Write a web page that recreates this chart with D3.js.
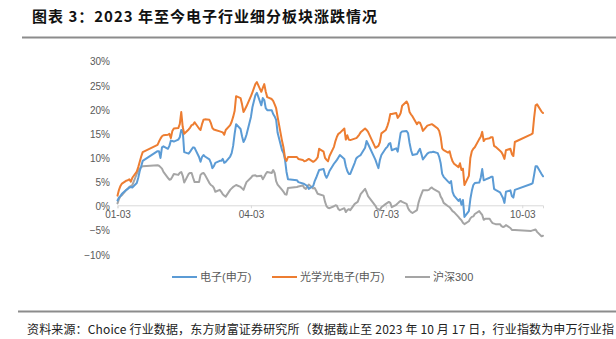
<!DOCTYPE html>
<html>
<head>
<meta charset="utf-8">
<script src="https://cdn.jsdelivr.net/npm/d3@7/dist/d3.min.js"></script>
<style>
  html, body { margin: 0; padding: 0; background: #fff; }
  svg { display: block; }
</style>
</head>
<body>
<svg id="chart" width="616" height="339"></svg>
<script>
// Trading dates of 2023 (MM-DD) shared by all three series
const dates = [
  "01-03","01-04","01-05","01-06","01-09","01-10","01-11","01-12","01-13","01-16",
  "01-17","01-18","01-19","01-20","01-30","01-31","02-01","02-02","02-03","02-06",
  "02-07","02-08","02-09","02-10","02-13","02-14","02-15","02-16","02-17","02-20",
  "02-21","02-22","02-23","02-24","02-27","02-28","03-01","03-02","03-03","03-06",
  "03-07","03-08","03-09","03-10","03-13","03-14","03-15","03-16","03-17","03-20",
  "03-21","03-22","03-23","03-24","03-27","03-28","03-29","03-30","03-31","04-03",
  "04-04","04-06","04-07","04-10","04-11","04-12","04-13","04-14","04-17","04-18",
  "04-19","04-20","04-21","04-24","04-25","04-26","04-27","04-28","05-04","05-05",
  "05-08","05-09","05-10","05-11","05-12","05-15","05-16","05-17","05-18","05-19",
  "05-22","05-23","05-24","05-25","05-26","05-29","05-30","05-31","06-01","06-02",
  "06-05","06-06","06-07","06-08","06-09","06-12","06-13","06-14","06-15","06-16",
  "06-19","06-20","06-21","06-26","06-27","06-28","06-29","06-30","07-03","07-04",
  "07-05","07-06","07-07","07-10","07-11","07-12","07-13","07-14","07-17","07-18",
  "07-19","07-20","07-21","07-24","07-25","07-26","07-27","07-28","07-31","08-01",
  "08-02","08-03","08-04","08-07","08-08","08-09","08-10","08-11","08-14","08-15",
  "08-16","08-17","08-18","08-21","08-22","08-23","08-24","08-25","08-28","08-29",
  "08-30","08-31","09-01","09-04","09-05","09-06","09-07","09-08","09-11","09-12",
  "09-13","09-14","09-15","09-18","09-19","09-20","09-21","09-22","09-25","09-26",
  "09-27","09-28","10-09","10-10","10-11","10-12","10-13","10-16","10-17"
];

// 电子(申万) cumulative change, %
const electronics = [
  1.0, 1.6, 1.9, 2.4, 3.2, 3.4, 3.7, 3.8, 3.7, 4.6,
  5.7, 7.1, 8.1, 9.2, 11.2, 11.2, 9.8, 12.0, 12.2, 11.7,
  12.3, 13.4, 13.3, 13.2, 13.6, 14.1, 15.6, 15.4, 11.0, 10.7,
  11.1, 11.6, 12.0, 11.9, 10.0, 9.0, 10.0, 10.4, 10.1, 9.5,
  8.8, 7.7, 8.1, 8.8, 9.2, 9.2, 9.6, 8.8, 9.0, 10.1,
  10.8, 12.3, 14.8, 16.8, 15.8, 14.3, 13.1, 13.7, 14.6, 18.3,
  20.3, 22.8, 23.3, 20.7, 22.2, 21.8, 20.1, 19.7, 19.7, 18.9,
  18.4, 17.7, 15.0, 11.4, 10.8, 9.4, 6.9, 5.4, 5.2, 4.8,
  4.5, 4.4, 4.2, 4.0, 3.4, 4.0, 5.0, 5.7, 6.5, 7.3,
  7.5, 6.3, 5.7, 6.3, 7.1, 8.6, 9.0, 9.4, 9.9, 10.4,
  9.6, 8.1, 7.1, 6.5, 6.5, 8.8, 9.7, 10.0, 10.2, 10.4,
  11.9, 13.3, 12.7, 9.4, 8.5, 7.7, 9.4, 10.4, 11.8, 12.1,
  12.7, 12.9, 11.4, 11.8, 11.1, 13.1, 15.0, 15.3, 15.4, 14.9,
  12.9, 11.4, 10.4, 10.6, 11.2, 11.7, 10.6, 9.5, 10.7, 10.9,
  11.0, 11.0, 11.1, 10.8, 10.0, 8.7, 6.5, 5.9, 4.9, 4.6,
  5.0, 2.8, 2.0, 0.9, 1.3, 0.1, 1.1, -2.4, -1.2, 1.3,
  3.0, 4.2, 4.6, 4.7, 5.7, 7.5, 5.2, 5.3, 5.7, 5.9,
  5.9, 3.4, 3.2, 2.7, 2.1, 1.5, 0.5, 2.8, 3.1, 1.9,
  1.6, 3.2, 4.4, 4.6, 6.3, 8.1, 8.1, 6.5, 6.0
];

// 光学光电子(申万) cumulative change, %
const optoelectronics = [
  2.0, 3.2, 4.0, 4.5, 5.1, 5.2, 5.4, 4.9, 5.7, 7.0,
  7.9, 9.0, 10.1, 11.0, 12.5, 13.2, 13.8, 14.3, 14.5, 14.6,
  14.8, 13.9, 15.4, 15.9, 16.0, 16.8, 19.3, 16.2, 14.8, 15.7,
  16.1, 16.6, 16.7, 17.2, 15.9, 15.6, 16.8, 17.7, 17.8, 17.7,
  17.0, 16.0, 15.7, 15.6, 15.3, 15.2, 15.1, 14.6, 15.6, 16.6,
  17.3, 18.3, 19.5, 22.6, 22.2, 20.9, 19.3, 19.9, 20.5, 22.6,
  23.4, 25.1, 25.5, 23.5, 24.3, 25.1, 23.5, 22.4, 22.0, 21.6,
  20.9, 20.1, 18.3, 13.3, 11.9, 9.8, 9.2, 10.0, 10.0, 9.6,
  9.4, 9.1, 9.2, 9.4, 9.6, 9.0, 9.2, 9.5, 9.9, 11.7,
  11.1, 9.8, 9.4, 9.1, 10.2, 12.1, 13.3, 14.2, 14.8, 15.0,
  15.9, 13.6, 14.5, 13.6, 13.5, 13.8, 13.9, 14.2, 14.6, 15.1,
  15.9, 15.6, 15.2, 11.9, 12.1, 12.3, 13.1, 14.9, 15.6, 16.4,
  17.4, 18.9, 18.9, 19.1, 18.1, 18.5, 19.1, 20.6, 21.5, 20.9,
  19.3, 18.8, 18.4, 16.8, 17.2, 17.1, 16.4, 15.4, 16.5, 16.6,
  16.7, 16.8, 16.6, 15.9, 15.4, 14.1, 11.8, 11.4, 10.9, 11.2,
  10.0, 9.1, 8.6, 7.9, 8.7, 7.3, 7.6, 4.2, 6.1, 9.8,
  11.2, 11.7, 12.0, 13.7, 14.2, 15.2, 13.3, 13.7, 13.9, 14.1,
  14.1, 12.3, 12.1, 11.3, 11.0, 10.4, 9.6, 11.4, 11.7, 10.6,
  10.2, 13.1, 14.7, 14.9, 18.1, 20.7, 20.9, 19.4, 19.1
];

// 沪深300 cumulative change, %
const csi300 = [
  0.4, 1.3, 1.9, 2.1, 3.2, 3.5, 3.8, 4.0, 4.2, 6.5,
  7.1, 7.6, 7.9, 8.1, 8.3, 8.2, 7.9, 7.6, 6.9, 5.7,
  5.3, 5.4, 5.9, 6.5, 6.3, 6.7, 6.9, 6.1, 4.7, 6.5,
  6.7, 6.7, 5.7, 4.8, 4.8, 6.3, 6.6, 6.7, 6.3, 4.6,
  4.2, 4.0, 3.6, 2.8, 3.2, 2.8, 2.3, 2.0, 1.8, 3.2,
  3.5, 3.8, 4.0, 4.2, 3.8, 3.5, 3.2, 4.0, 4.8, 5.7,
  6.1, 6.2, 6.0, 6.1, 5.4, 5.9, 6.5, 6.9, 6.7, 7.3,
  6.7, 5.0, 4.3, 3.2, 2.8, 2.3, 2.2, 3.6, 3.8, 3.9,
  4.1, 3.6, 3.4, 3.9, 4.3, 3.5, 3.6, 3.0, 2.4, 2.3,
  2.0, 0.7, -0.2, -0.5, -0.6, -0.2, 0.0, -0.1, -0.8, -1.0,
  -0.6, -1.4, -1.0, -0.8, -1.0, 0.3, 0.5, 0.7, 1.5, 2.3,
  3.4, 2.7, 1.9, -0.1, -0.7, -0.8, -1.0, -0.4, 0.3, 0.5,
  0.7, 0.5, -0.4, 0.1, 0.4, 0.7, 0.9, 0.7, 0.3, -0.6,
  -1.1, -1.4, -1.6, -1.0, 0.5, 1.5, 2.3, 3.1, 3.1, 3.2,
  3.5, 3.7, 3.4, 2.9, 2.7, 1.8, 1.3, 0.5, -0.2, -0.4,
  -0.8, -1.2, -1.4, -2.4, -2.8, -3.1, -3.6, -3.9, -3.3, -2.7,
  -2.4, -2.3, -1.8, -1.2, -1.6, -2.0, -3.0, -2.8, -2.8, -3.3,
  -3.7, -3.8, -3.9, -3.9, -4.3, -4.5, -4.4, -4.1, -4.7, -5.1,
  -5.1, -5.1, -5.3, -5.2, -5.1, -5.0, -5.5, -6.4, -6.3
];

const seriesNames = ["电子(申万)", "光学光电子(申万)", "沪深300"];
const seriesColors = ["#5B9BD5", "#ED7D31", "#A5A5A5"];
const yTicks = [-10, -5, 0, 5, 10, 15, 20, 25, 30];
const xTicks = ["01-03", "04-03", "07-03", "10-03"];

const titleText = "图表 3：2023 年至今电子行业细分板块涨跌情况";
const sourceText = "资料来源：Choice 行业数据，东方财富证券研究所（数据截止至 2023 年 10 月 17 日，行业指数为申万行业指";

const parse = d3.timeParse("%Y-%m-%d");
const toDate = s => parse("2023-" + s);

const svg = d3.select("#chart");
const W = 616, H = 339;
svg.append("rect").attr("width", W).attr("height", H).attr("fill", "#fff");

// Title and rules
svg.append("text")
  .attr("x", 32).attr("y", 22)
  .attr("font-family", "'Noto Sans CJK SC', sans-serif")
  .attr("font-weight", 700)
  .attr("font-size", 15)
  .attr("letter-spacing", 1.0)
  .attr("fill", "#111")
  .text(titleText);
svg.append("line")
  .attr("x1", 22).attr("x2", W).attr("y1", 37.5).attr("y2", 37.5)
  .attr("stroke", "#8c8c8c").attr("stroke-width", 2);

svg.append("line")
  .attr("x1", 18).attr("x2", W).attr("y1", 311.5).attr("y2", 311.5)
  .attr("stroke", "#8c8c8c").attr("stroke-width", 2);
svg.append("text")
  .attr("x", 27).attr("y", 334)
  .attr("font-family", "'Noto Sans CJK SC', sans-serif")
  .attr("font-size", 12)
  .attr("letter-spacing", 0.15)
  .attr("fill", "#222")
  .text(sourceText);

// Scales
const x = d3.scaleTime()
  .domain([toDate("01-03"), toDate("10-17")])
  .range([117.5, 543]);
const y = d3.scaleLinear()
  .domain([-10, 30])
  .range([253.6, 60.4]);

const labelFont = "'Liberation Sans', Arial, sans-serif";

// Y axis labels (no axis line)
const yAxis = svg.append("g")
  .attr("transform", "translate(110,0)")
  .call(d3.axisLeft(y).tickValues(yTicks).tickFormat(v => (v < 0 ? "\u2212" + Math.abs(v) : v) + "%").tickSize(0).tickPadding(0));
yAxis.select(".domain").remove();
yAxis.selectAll("text")
  .attr("font-family", labelFont)
  .attr("font-size", 10)
  .attr("fill", "#595959")
  .attr("dy", "0.45em");

// X axis drawn on the zero line
const xAxis = svg.append("g")
  .attr("transform", `translate(0,${y(0)})`)
  .call(d3.axisBottom(x)
    .tickValues(xTicks.map(toDate))
    .tickFormat(d3.timeFormat("%m-%d"))
    .tickSize(3)
    .tickPadding(3));
xAxis.select(".domain").attr("stroke", "#D9D9D9").attr("stroke-width", 1);
xAxis.selectAll(".tick line").attr("stroke", "#D9D9D9");
xAxis.selectAll("text")
  .attr("font-family", labelFont)
  .attr("font-size", 10)
  .attr("fill", "#595959");

// Series lines
const rows = [electronics, optoelectronics, csi300];
const line = d3.line()
  .x(d => x(d.date))
  .y(d => y(d.v));
// gray first so the coloured lines sit on top
[2, 0, 1].forEach(i => {
  const pts = dates.map((d, k) => ({ date: toDate(d), v: rows[i][k] }));
  svg.append("path")
    .datum(pts)
    .attr("fill", "none")
    .attr("stroke", seriesColors[i])
    .attr("stroke-width", 2)
    .attr("stroke-linejoin", "round")
    .attr("stroke-linecap", "round")
    .attr("d", line);
});

// Legend
const legendX = [172, 272, 405];
const legend = svg.append("g");
seriesNames.forEach((name, i) => {
  const g = legend.append("g").attr("transform", `translate(${legendX[i]},277)`);
  g.append("line").attr("x1", 0).attr("x2", 25).attr("y1", 0).attr("y2", 0)
    .attr("stroke", seriesColors[i]).attr("stroke-width", 2);
  g.append("text").attr("x", 28).attr("y", 4)
    .attr("font-family", "'Liberation Sans', 'Noto Sans CJK SC', sans-serif")
    .attr("font-size", 11)
    .attr("fill", "#595959")
    .text(name);
});
</script>
</body>
</html>
